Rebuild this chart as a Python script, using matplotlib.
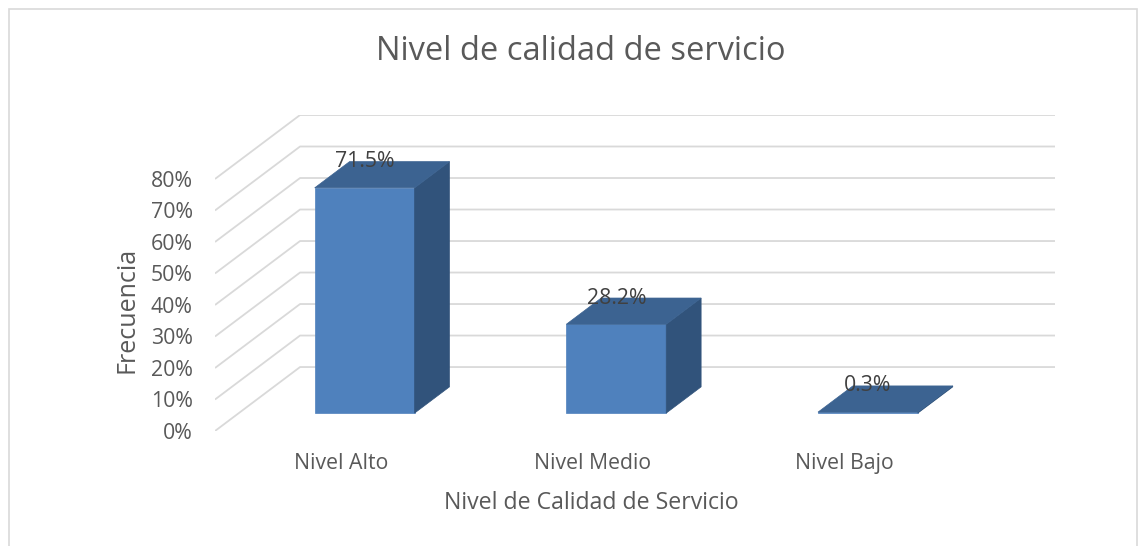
import matplotlib
matplotlib.use("Agg")
import matplotlib.pyplot as plt
from matplotlib.patches import Polygon, Rectangle

# ---- data ----
categories = ["Nivel Alto", "Nivel Medio", "Nivel Bajo"]
values = [71.5, 28.2, 0.3]
value_labels = ["71.5%", "28.2%", "0.3%"]
yticks = [0, 10, 20, 30, 40, 50, 60, 70, 80]
ytick_labels = ["0%", "10%", "20%", "30%", "40%", "50%", "60%", "70%", "80%"]

title = "Nivel de calidad de servicio"
xlabel = "Nivel de Calidad de Servicio"
ylabel = "Frecuencia"

# ---- style / projection ----
W, H = 1142, 546
DX = 0.338   # depth offset in category units
DY = 20.3    # depth offset in percent units
Z0, Z1 = 0.28, 0.69   # bar depth slice (fraction of depth)
BW = 0.397
FRONT = "#4f81bd"
TOP = "#3c6391"
SIDE = "#31537b"
GRID = "#d9d9d9"
TXT = "#595959"
FONT = "Open Sans"

plt.rcParams["font.family"] = [FONT, "DejaVu Sans"]

fig = plt.figure(figsize=(W / 100, H / 100), dpi=100)
fig.patch.set_facecolor("white")

# chart border
fig.patches.append(Rectangle((9 / W, -0.05), (1137 - 9) / W, (H - 9) / H + 0.05,
                             transform=fig.transFigure, fill=False,
                             edgecolor="#d9d9d9", lw=1.2))

ax_l, ax_r, ax_b, ax_t = 215, 1055, 431, 115
ax = fig.add_axes([ax_l / W, (H - ax_b) / H, (ax_r - ax_l) / W, (ax_b - ax_t) / H])
n = len(categories)
ax.set_xlim(-0.5, n - 0.5 + DX)
ax.set_ylim(0, yticks[-1] + DY)
for s in ax.spines.values():
    s.set_visible(False)
ax.patch.set_alpha(0)


def P(x, y, z):
    return (x + z * DX, y + z * DY)


# gridlines: side wall + back wall
x0, x1 = -0.5, n - 0.5
for v in yticks:
    xs = [P(x0, v, 0)[0], P(x0, v, 1)[0], P(x1, v, 1)[0]]
    ys = [P(x0, v, 0)[1], P(x0, v, 1)[1], P(x1, v, 1)[1]]
    ax.plot(xs, ys, color=GRID, lw=1.3, zorder=1, solid_capstyle="butt")

# bars
for i, v in enumerate(values):
    xc = i + Z0 * DX
    ax.bar(xc, v, width=BW, bottom=Z0 * DY, color=FRONT, zorder=3,
           edgecolor=FRONT, linewidth=0.5)
    l, r = i - BW / 2, i + BW / 2
    top = Polygon([P(l, v, Z0), P(r, v, Z0), P(r, v, Z1), P(l, v, Z1)],
                  closed=True, facecolor=TOP, edgecolor=TOP, lw=0.5, zorder=4)
    side = Polygon([P(r, 0, Z0), P(r, v, Z0), P(r, v, Z1), P(r, 0, Z1)],
                   closed=True, facecolor=SIDE, edgecolor=SIDE, lw=0.5, zorder=4)
    ax.add_patch(side)
    ax.add_patch(top)
    lx, ly = xc, P(i, v, Z1)[1]
    ax.text(lx, ly, value_labels[i], ha="center", va="center", fontsize=15.3,
            color="#404040", zorder=6)

ax.set_yticks(yticks)
ax.set_yticklabels(ytick_labels, fontsize=15.3, color=TXT)
ax.set_xticks(range(n))
ax.set_xticklabels(categories, fontsize=15.3, color=TXT)
ax.tick_params(axis="both", length=0)
ax.tick_params(axis="y", pad=16)
ax.tick_params(axis="x", pad=16)

fig.text(581 / W, 1 - 52 / H, title, ha="center", va="center", fontsize=23.5, color=TXT)
fig.text(591 / W, 1 - 503 / H, xlabel, ha="center", va="center", fontsize=16.7, color=TXT)
fig.text(127 / W, 1 - 310 / H, ylabel, ha="center", va="center", fontsize=18,
         color=TXT, rotation=90)

fig.savefig("out.png", dpi=100)
